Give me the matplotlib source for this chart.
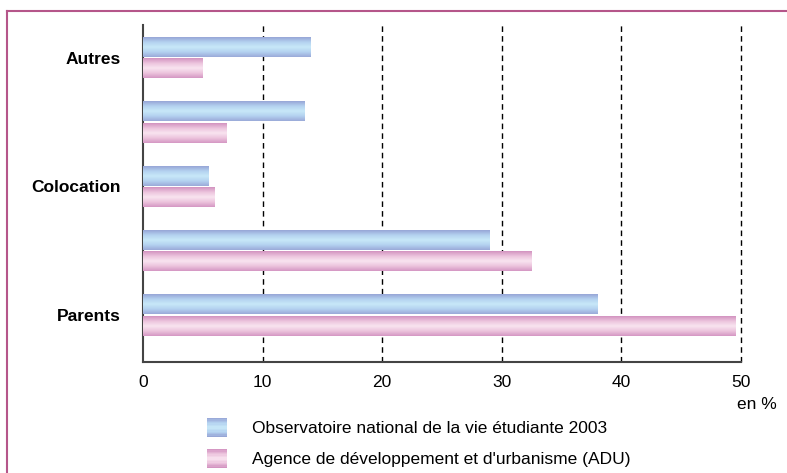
import numpy as np
import matplotlib
matplotlib.use('Agg')
import matplotlib.pyplot as plt
from matplotlib.colors import LinearSegmentedColormap
from matplotlib.patches import Rectangle
from matplotlib.legend_handler import HandlerBase
from matplotlib.lines import Line2D

plt.rcParams['font.family'] = ['Liberation Sans', 'DejaVu Sans']

# -- data (top to bottom) --
categories = ['Autres', '', 'Colocation', '', 'Parents']
ove_2003 = [14.0, 13.5, 5.5, 29.0, 38.0]
adu = [5.0, 7.0, 6.0, 32.5, 49.5]
series_names = ['Observatoire national de la vie étudiante 2003',
                "Agence de développement et d'urbanisme (ADU)"]
x_ticks = [0, 10, 20, 30, 40, 50]

# -- colours: edge / centre / edge gradient --
blue_cmap = LinearSegmentedColormap.from_list(
    'b', ['#97a6d6', '#b4d2f0', '#c8e8f8', '#b4d2f0', '#9aaad9'])
pink_cmap = LinearSegmentedColormap.from_list(
    'p', ['#d393c0', '#ecc4dd', '#f9e4f0', '#ecc4dd', '#d597c3'])

FS = 12.5
W, H = 787, 473
fig = plt.figure(figsize=(W / 100, H / 100), dpi=100)
ax = fig.add_axes([143 / W, 1 - 362 / H, (741 - 143) / W, (362 - 25) / H])

n = len(categories)
ypos = np.arange(n)[::-1]  # Autres on top
bar_h = 0.31
off = 0.165

grad = np.linspace(0, 1, 64).reshape(-1, 1)


def grad_bar(y, v, cmap):
    ax.barh(y, v, height=bar_h, color=cmap(0.5), linewidth=0, zorder=2)
    ax.imshow(grad, cmap=cmap, aspect='auto', interpolation='bilinear',
              extent=[0, v, y - bar_h / 2, y + bar_h / 2], zorder=3)


for y, v1, v2 in zip(ypos, ove_2003, adu):
    grad_bar(y + off, v1, blue_cmap)
    grad_bar(y - off, v2, pink_cmap)

ax.set_xlim(0, 50)
ax.set_ylim(-0.73, 4.51)
ax.set_xticks(x_ticks)
ax.set_xticklabels([str(t) for t in x_ticks], fontsize=FS)
ax.set_yticks(ypos)
ax.set_yticklabels(categories, fontsize=FS, fontweight='bold')
ax.tick_params(axis='y', length=0, pad=16)
ax.tick_params(axis='x', length=0, pad=9)

for t in x_ticks[1:]:
    ax.axvline(t, color='black', linestyle=(0, (4, 3)), linewidth=1,
               zorder=1, clip_on=False)

for s in ['top', 'right']:
    ax.spines[s].set_visible(False)
ax.spines['left'].set_color('#444444')
ax.spines['left'].set_linewidth(1.5)
ax.spines['bottom'].set_color('#444444')
ax.spines['bottom'].set_linewidth(1.5)
ax.set_facecolor('none')

fig.text(757 / W, 1 - 404 / H, 'en %', ha='center', va='center', fontsize=FS)


class GradHandler(HandlerBase):
    def __init__(self, cmap):
        super().__init__()
        self.cmap = cmap

    def create_artists(self, legend, orig_handle, xdescent, ydescent,
                       width, height, fontsize, trans):
        k = 14
        out = []
        for i in range(k):
            out.append(Rectangle((-xdescent, -ydescent + i * height / k),
                                 width, height / k + 0.3,
                                 facecolor=self.cmap(i / (k - 1)),
                                 edgecolor='none', transform=trans))
        return out


h1 = Line2D([], [])
h2 = Line2D([], [])
fig.legend([h1, h2], series_names, loc='upper left',
           bbox_to_anchor=(207 / W, 1 - 418 / H), frameon=False,
           fontsize=FS, borderpad=0, borderaxespad=0,
           handlelength=1.15, handleheight=1.3, handletextpad=1.45,
           labelspacing=0.7,
           handler_map={h1: GradHandler(blue_cmap), h2: GradHandler(pink_cmap)})

# frame lines (top and left)
fig.add_artist(Line2D([7 / W, 1], [1 - 11 / H, 1 - 11 / H], color='#b5568a',
                      linewidth=1.5, transform=fig.transFigure))
fig.add_artist(Line2D([7 / W, 7 / W], [1 - 11 / H, 0], color='#b5568a',
                      linewidth=1.5, transform=fig.transFigure))

fig.savefig('out.png', dpi=100)
